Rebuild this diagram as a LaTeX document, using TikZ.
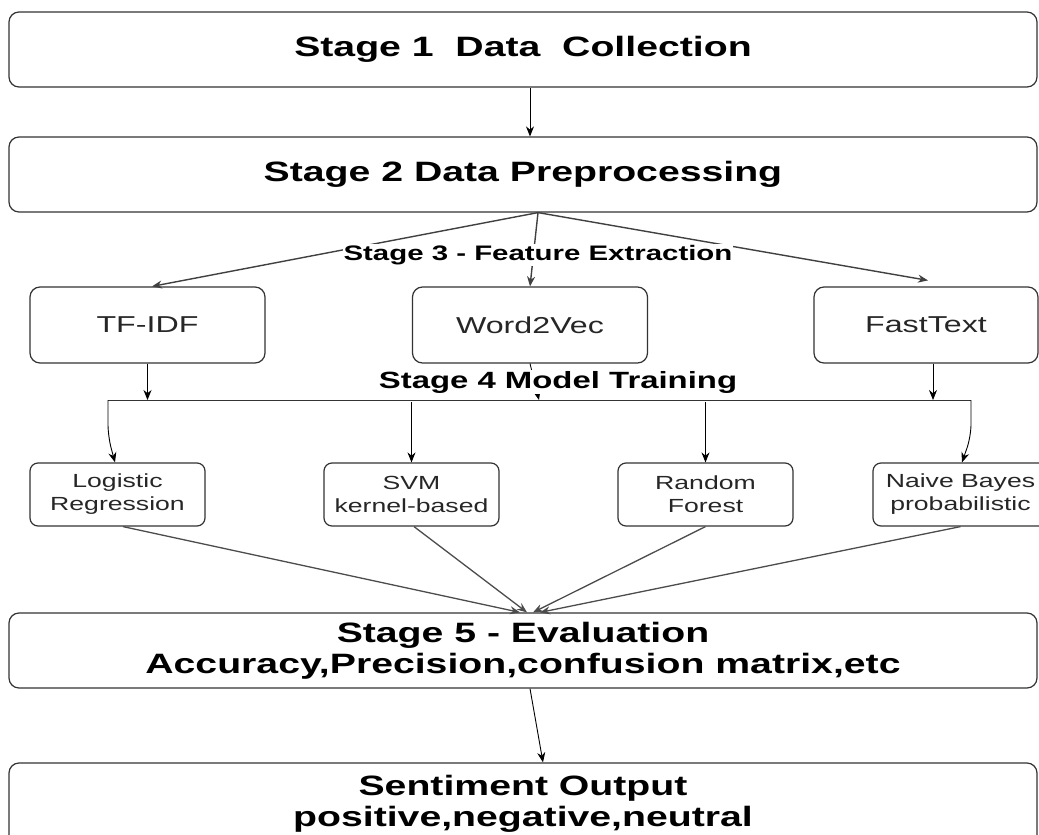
\documentclass[tikz,border=0pt]{standalone}
\usepackage{fontspec}
\setmainfont{Liberation Sans}[FakeStretch=1.4]
\usetikzlibrary{arrows.meta}

\begin{document}
\begin{tikzpicture}[x=1pt, y=-1pt,
every node/.style = {align=center, inner sep=0pt},
stagebox/.style = {draw=black!80, line width=1.2pt, rounded corners=10pt,
  minimum width=1028pt, minimum height=75pt,
  font=\fontsize{28}{31}\selectfont\bfseries},
featbox/.style = {draw=black!80, line width=1.2pt, rounded corners=10pt,
  minimum width=235pt, minimum height=76pt,
  font=\fontsize{23}{26}\selectfont, text=black!85},
modelbox/.style = {draw=black!80, line width=1.2pt, rounded corners=8pt,
  minimum width=175pt, minimum height=63pt,
  font=\fontsize{19}{23}\selectfont, text=black!85},
steplabel/.style = {fill=white, inner sep=1pt,
  font=\fontsize{21}{24}\selectfont\bfseries},
arr/.style = {-{Stealth[length=10pt, width=8pt]}, line width=0.9pt},
branch/.style = {arr, draw=black!75, line width=1.4pt},
conv/.style = {arr, draw=black!70, line width=1.3pt}]
\useasboundingbox (0,0) rectangle (1039,835);

\node[stagebox] (collect) at (523,49.5) {Stage 1~~Data~~Collection};
\node[stagebox] (prep) at (523,174.5) {Stage 2 Data Preprocessing};
\node[featbox] (tfidf) at (147.5,325) {TF-IDF};
\node[featbox] (w2v) at (530,325) {Word2Vec};
\node[featbox, minimum width=224pt] (ftext) at (926,325) {FastText};
\node[modelbox] (logreg) at (117.5,494.5) {Logistic\\Regression};
\node[modelbox] (svm) at (411.5,494.5) {SVM\\kernel-based};
\node[modelbox] (rforest) at (705.5,494.5) {Random\\Forest};
\node[modelbox] (nbayes) at (960.5,494.5) {Naive Bayes\\probabilistic};
\node[stagebox] (eval) at (523,650.5) {Stage 5 - Evaluation\\Accuracy,Precision,confusion matrix,etc};
\node[stagebox, minimum height=82pt] (output) at (523,804) {Sentiment Output\\positive,negative,neutral};

\coordinate (split) at ([xshift=15pt]prep.south);
\coordinate (barL) at (108,400);
\coordinate (barR) at (971,400);
\coordinate (hub) at (539,400);

\draw[arr] ([xshift=7pt]collect.south) -- ([xshift=7pt]prep.north);
\draw[branch] (split) -- ([xshift=4.5pt]tfidf.north);
\draw[branch] (split) -- (w2v.north);
\draw[branch] (split) -- ([xshift=2pt,yshift=6pt]ftext.north);
\node[steplabel] (fextract) at (538,255) {Stage 3 - Feature Extraction};

\draw[arr] (tfidf.south) -- (tfidf.south |- barL);
\draw[arr] (w2v.south) -- (hub);
\draw[arr] ([xshift=7pt]ftext.south) -- ([xshift=7pt]ftext.south |- barR);
\draw[line width=1pt, draw=black!80] (barL) -- (barR);
\node[steplabel, font=\fontsize{23.5}{26}\selectfont\bfseries] (mtrain) at (558,382) {Stage 4 Model Training};

\draw[arr, rounded corners=12pt] (barL) -- ([xshift=-9.5pt,yshift=26pt]logreg.north) -- ([xshift=-2.5pt]logreg.north);
\draw[arr] ([yshift=60pt]svm.north) -- (svm.north);
\draw[arr] ([yshift=60pt]rforest.north) -- (rforest.north);
\draw[arr, rounded corners=12pt] (barR) -- ([xshift=10.5pt,yshift=26pt]nbayes.north) -- ([xshift=1.5pt]nbayes.north);

\draw[conv] ([xshift=5.5pt]logreg.south) -- ([xshift=-3pt]eval.north);
\draw[conv] ([xshift=2.5pt]svm.south) -- ([xshift=4pt]eval.north);
\draw[conv] (rforest.south) -- ([xshift=10pt]eval.north);
\draw[conv] (nbayes.south) -- ([xshift=17pt]eval.north);
\draw[arr] ([xshift=7pt]eval.south) -- ([xshift=20pt]output.north);
\end{tikzpicture}
\end{document}
